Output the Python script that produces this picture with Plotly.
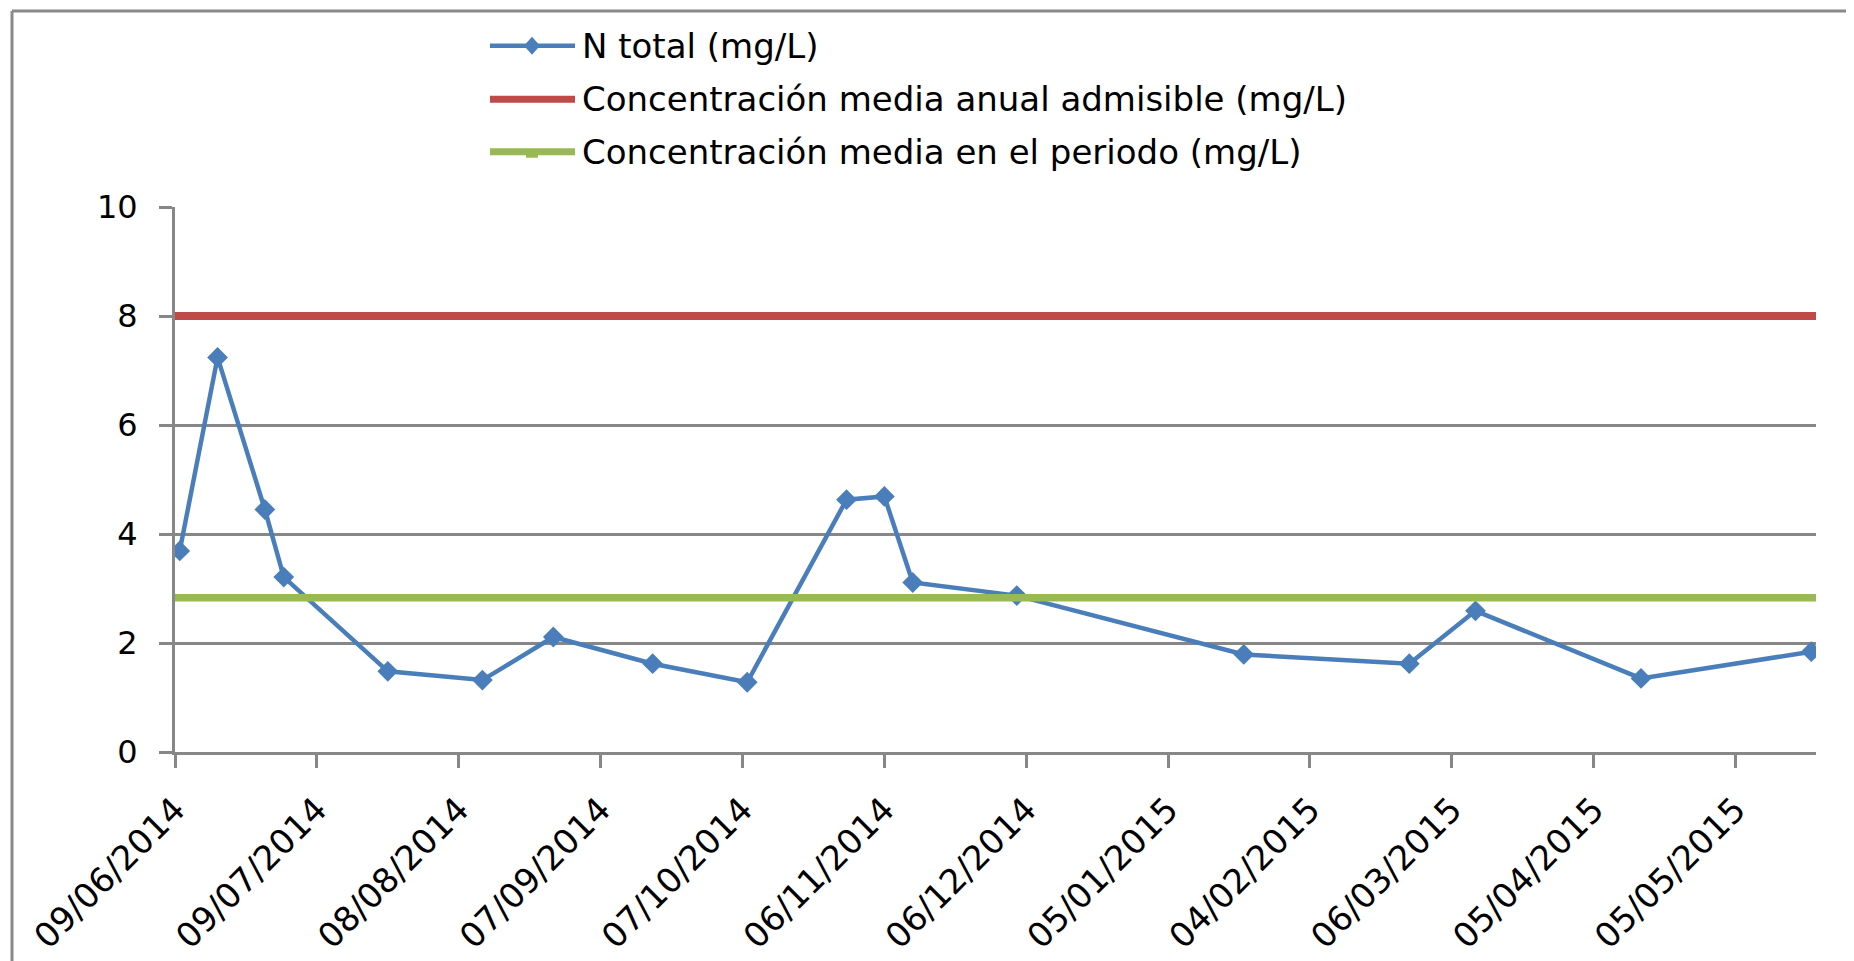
import plotly.graph_objects as go

# datos
fechas = ["2014-06-10", "2014-06-18", "2014-06-28", "2014-07-02", "2014-07-24",
          "2014-08-13", "2014-08-28", "2014-09-18", "2014-10-08", "2014-10-29",
          "2014-11-06", "2014-11-12", "2014-12-04", "2015-01-21", "2015-02-25",
          "2015-03-11", "2015-04-15", "2015-05-21"]
n_total = [3.69, 7.24, 4.45, 3.21, 1.48, 1.32, 2.11, 1.62, 1.28, 4.63,
           4.69, 3.11, 2.87, 1.79, 1.62, 2.59, 1.35, 1.84]

periodo = ["2014-06-09", "2015-05-22"]
media_anual_admisible = 8.0
media_periodo = 2.83

nombres = ["N total (mg/L)",
           "Concentración media anual admisible (mg/L)",
           "Concentración media en el periodo (mg/L)"]
colores = ["#4A7EBB", "#BE4B48", "#98B954"]
grosores = [4.5, 7, 7]

# la pagina deja 8 px de margen alrededor de la figura
OFF = 8
W, H = 1846, 953
ML, MR, MT, MB = 175 - OFF, 38, 207 - OFF, 209
PW, PH = W - ML - MR, H - MT - MB
GRIS = "#878787"
FUENTE = "DejaVu Sans"


def px_x(p):
    # pixel absoluto de la ventana -> coordenada paper
    return (p - OFF - ML) / PW


def px_y(p):
    return (H - MB - (p - OFF)) / PH


fig = go.Figure()

fig.add_trace(go.Scatter(
    x=fechas, y=n_total, name=nombres[0], mode="lines+markers",
    line=dict(color=colores[0], width=4.5),
    marker=dict(symbol="diamond", size=16, color=colores[0])))

fig.add_trace(go.Scatter(
    x=periodo, y=[media_anual_admisible] * len(periodo), name=nombres[1],
    mode="lines", line=dict(color=colores[1], width=8)))

fig.add_trace(go.Scatter(
    x=periodo, y=[media_periodo] * len(periodo), name=nombres[2],
    mode="lines", line=dict(color=colores[2], width=7.5)))

# leyenda dibujada a mano (lineas largas como en Excel)
filas = [45.7, 99.3, 151.7]
shapes = []
annotations = []
for nombre, color, grosor, fy in zip(nombres, colores, grosores, filas):
    shapes.append(dict(type="line", xref="paper", yref="paper",
                       x0=px_x(490), x1=px_x(575), y0=px_y(fy), y1=px_y(fy),
                       line=dict(color=color, width=grosor)))
    annotations.append(dict(text=nombre, xref="paper", yref="paper",
                            x=px_x(580), y=px_y(fy), xanchor="left",
                            yanchor="middle", showarrow=False,
                            font=dict(family=FUENTE, size=34, color="#000")))
shapes.append(dict(type="path", xref="paper", yref="paper",
                   xsizemode="pixel", ysizemode="pixel",
                   xanchor=px_x(532), yanchor=px_y(filas[0]),
                   path="M0,9 L8,0 L0,-9 L-8,0 Z",
                   fillcolor=colores[0], line=dict(width=0)))
shapes.append(dict(type="rect", xref="paper", yref="paper",
                   xsizemode="pixel", ysizemode="pixel",
                   xanchor=px_x(532), yanchor=px_y(filas[2]),
                   x0=-6, x1=6, y0=-6, y1=0,
                   fillcolor=colores[2], line=dict(width=0)))

# borde del area del grafico
shapes.append(dict(type="line", xref="paper", yref="paper",
                   x0=px_x(12), x1=px_x(1900), y0=px_y(11), y1=px_y(11),
                   line=dict(color="#898989", width=3)))
shapes.append(dict(type="line", xref="paper", yref="paper",
                   x0=px_x(12), x1=px_x(12), y0=px_y(11), y1=px_y(1000),
                   line=dict(color="#898989", width=3)))

fig.update_layout(
    width=W, height=H,
    margin=dict(l=ML, r=MR, t=MT, b=MB, autoexpand=False),
    paper_bgcolor="white", plot_bgcolor="white",
    showlegend=False,
    shapes=shapes, annotations=annotations,
    font=dict(family=FUENTE, size=32, color="#000"),
    xaxis=dict(
        type="date", range=periodo, automargin=False,
        tick0="2014-06-09", dtick=30 * 86400000,
        tickformat="%d/%m/%Y", tickangle=-45,
        showgrid=False, showline=True, linecolor=GRIS, linewidth=3,
        ticks="outside", ticklen=13, tickwidth=3, tickcolor=GRIS,
        tickfont=dict(family=FUENTE, size=34, color="#000"),
        ticklabelstandoff=8, zeroline=False),
    yaxis=dict(
        range=[0, 10], dtick=2, automargin=False,
        showgrid=True, gridcolor=GRIS, gridwidth=2.5,
        showline=True, linecolor=GRIS, linewidth=3,
        ticks="outside", ticklen=13, tickwidth=3, tickcolor=GRIS,
        tickfont=dict(family=FUENTE, size=32, color="#000"),
        ticklabelstandoff=15, zeroline=False),
)

fig.write_html("out.html")
